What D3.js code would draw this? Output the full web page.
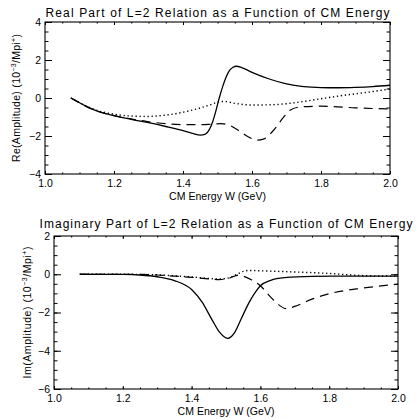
<!DOCTYPE html>
<html>
<head>
<meta charset="utf-8">
<script src="https://cdn.jsdelivr.net/npm/d3@7"></script>
<style>
  body { margin: 0; background: #fff; }
  text { font-family: "Liberation Sans", Arial, sans-serif; fill: #000; }
</style>
</head>
<body>
<div id="chart"></div>
<script>
// Energy axis ticks (GeV)
const xTickValues = [1.0, 1.2, 1.4, 1.6, 1.8, 2.0]
const reTickValues = [-4, -2, 0, 2, 4]
const imTickValues = [-6, -4, -2, 0, 2]

// Real part, [W, amplitude]
const reSolid = [[1.075, 0], [1.10, -0.25], [1.12, -0.45], [1.15, -0.68], [1.2, -0.93], [1.25, -1.12],
    [1.3, -1.3], [1.35, -1.5], [1.4, -1.72], [1.43, -1.88], [1.45, -1.95], [1.465, -1.9], [1.475, -1.7],
    [1.485, -1.3], [1.495, -0.7], [1.505, 0.0], [1.515, 0.6], [1.525, 1.1], [1.535, 1.45], [1.545, 1.62],
    [1.555, 1.67], [1.57, 1.6], [1.6, 1.35], [1.65, 1.0], [1.7, 0.74], [1.75, 0.6], [1.8, 0.55],
    [1.85, 0.54], [1.9, 0.56], [1.95, 0.6], [2.0, 0.67]]
const reDotted = [[1.075, 0], [1.1, -0.25], [1.15, -0.65], [1.2, -0.85], [1.25, -0.95], [1.3, -0.97],
    [1.35, -0.9], [1.4, -0.75], [1.45, -0.52], [1.48, -0.35], [1.5, -0.22], [1.52, -0.18], [1.55, -0.28],
    [1.6, -0.37], [1.65, -0.36], [1.7, -0.3], [1.75, -0.18], [1.8, -0.04], [1.85, 0.1], [1.9, 0.22],
    [1.95, 0.34], [2.0, 0.48]]
const reDashed = [[1.075, 0], [1.1, -0.25], [1.15, -0.68], [1.2, -0.93], [1.25, -1.1], [1.3, -1.25],
    [1.35, -1.35], [1.4, -1.4], [1.45, -1.4], [1.48, -1.38], [1.51, -1.35], [1.53, -1.4], [1.56, -1.7],
    [1.59, -2.05], [1.615, -2.22], [1.635, -2.15], [1.66, -1.75], [1.69, -1.05], [1.71, -0.65],
    [1.74, -0.47], [1.8, -0.43], [1.9, -0.52], [2.0, -0.58]]

// Imaginary part, [W, amplitude]
const imSolid = [[1.075, 0], [1.2, -0.01], [1.25, -0.04], [1.3, -0.13], [1.35, -0.33], [1.4, -0.8],
    [1.43, -1.45], [1.46, -2.4], [1.48, -3.0], [1.505, -3.35], [1.525, -3.05], [1.545, -2.3],
    [1.565, -1.55], [1.585, -0.95], [1.6, -0.6], [1.63, -0.32], [1.67, -0.18], [1.75, -0.11],
    [1.85, -0.1], [2.0, -0.1]]
const imDotted = [[1.075, 0], [1.2, 0], [1.3, -0.03], [1.35, -0.08], [1.4, -0.14], [1.45, -0.22],
    [1.48, -0.25], [1.51, -0.18], [1.53, -0.02], [1.55, 0.15], [1.57, 0.2], [1.6, 0.18], [1.7, 0.12],
    [1.8, 0.04], [1.85, -0.02], [1.9, -0.07], [2.0, -0.1]]
const imDashed = [[1.075, 0], [1.2, 0], [1.3, -0.04], [1.35, -0.1], [1.4, -0.16], [1.45, -0.24],
    [1.48, -0.28], [1.51, -0.2], [1.535, -0.05], [1.55, -0.1], [1.575, -0.3], [1.6, -0.6], [1.625, -1.1],
    [1.65, -1.55], [1.675, -1.8], [1.7, -1.68], [1.75, -1.3], [1.8, -1.02], [1.9, -0.72], [2.0, -0.52]]

let svg = d3.select('#chart')
            .append('svg')
            .attr('width', 416)
            .attr('height', 419)

const drawPanel = (p) => {
    let xScale = d3.scaleLinear().domain([1.0, 2.0]).range([p.left, p.right])
    let yScale = d3.scaleLinear().domain(p.yDomain).range([p.bottom, p.top])
    let plotW = p.right - p.left
    let plotH = p.bottom - p.top

    let g = svg.append('g')

    // minor ticks (every 0.05 in W, 0.5 in amplitude), IDL style on all 4 sides
    let xMinor = d3.range(1.0, 2.0001, 0.05)
    let yMinor = d3.range(p.yDomain[0], p.yDomain[1] + 0.001, 0.5)
    const noLabel = (a) => a.tickFormat('')

    g.append('g').attr('transform', `translate(0,${p.bottom})`)
        .call(noLabel(d3.axisBottom(xScale).tickValues(xMinor).tickSize(-1.6)))
    g.append('g').attr('transform', `translate(0,${p.top})`)
        .call(noLabel(d3.axisTop(xScale).tickValues(xMinor).tickSize(-1.6)))
    g.append('g').attr('transform', `translate(${p.left},0)`)
        .call(noLabel(d3.axisLeft(yScale).tickValues(yMinor).tickSize(-3.5)))
    g.append('g').attr('transform', `translate(${p.right},0)`)
        .call(noLabel(d3.axisRight(yScale).tickValues(yMinor).tickSize(-3.5)))

    // major ticks + labels
    g.append('g').attr('transform', `translate(0,${p.bottom})`)
        .call(d3.axisBottom(xScale).tickValues(xTickValues).tickSize(-3).tickPadding(6)
            .tickFormat(d3.format('.1f')))
    g.append('g').attr('transform', `translate(0,${p.top})`)
        .call(noLabel(d3.axisTop(xScale).tickValues(xTickValues).tickSize(-3)))
    g.append('g').attr('transform', `translate(${p.left},0)`)
        .call(d3.axisLeft(yScale).tickValues(p.yTicks).tickSize(-7).tickPadding(4)
            .tickFormat((d) => d < 0 ? '\u2212' + Math.abs(d) : d))
    g.append('g').attr('transform', `translate(${p.right},0)`)
        .call(noLabel(d3.axisRight(yScale).tickValues(p.yTicks).tickSize(-7)))

    g.selectAll('.domain').remove()
    g.selectAll('.tick line').attr('stroke', '#000')
    g.selectAll('.tick text').attr('font-size', '10.5px').attr('font-family', '"Liberation Sans", Arial, sans-serif')

    // frame
    g.append('rect')
        .attr('x', p.left).attr('y', p.top)
        .attr('width', plotW).attr('height', plotH)
        .attr('fill', 'none').attr('stroke', '#000').attr('stroke-width', 1.1)

    // curves
    let line = d3.line()
        .x((d) => xScale(d[0]))
        .y((d) => yScale(d[1]))
        .curve(d3.curveMonotoneX)

    p.series.forEach((s) => {
        g.append('path')
            .datum(s.data)
            .attr('d', line)
            .attr('fill', 'none')
            .attr('stroke', '#000')
            .attr('stroke-width', s.width)
            .attr('stroke-dasharray', s.dash)
    })

    // titles
    g.append('text')
        .attr('x', (p.left + p.right) / 2).attr('y', p.titleY)
        .attr('text-anchor', 'middle').attr('font-size', '12px')
        .attr('textLength', p.titleLen).attr('lengthAdjust', 'spacing')
        .text(p.title)

    g.append('text')
        .attr('x', (p.left + p.right) / 2).attr('y', p.bottom + 26)
        .attr('text-anchor', 'middle').attr('font-size', '10.5px')
        .attr('textLength', 97).attr('lengthAdjust', 'spacing')
        .text('CM Energy W (GeV)')

    let yLab = g.append('text')
        .attr('transform', `translate(${p.yLabelX},${(p.top + p.bottom) / 2}) rotate(-90)`)
        .attr('text-anchor', 'middle').attr('font-size', '10.5px')
        .attr('textLength', p.yLabelLen).attr('lengthAdjust', 'spacing')
    yLab.append('tspan').text(p.yPrefix + '(Amplitude)  (10')
    yLab.append('tspan').attr('font-size', '7px').attr('dy', -4).text('\u22123')
    yLab.append('tspan').attr('dy', 4).text('/Mpi')
    yLab.append('tspan').attr('font-size', '7px').attr('dy', -4).text('+')
    yLab.append('tspan').attr('dy', 4).text(')')
}

drawPanel({
    left: 45, right: 390, top: 22, bottom: 174,
    yDomain: [-4, 4], yTicks: reTickValues,
    title: 'Real Part of L=2 Relation as a Function of CM Energy', titleLen: 344, titleY: 17,
    yPrefix: 'Re', yLabelX: 19.5, yLabelLen: 128,
    series: [
        { data: reSolid, dash: null, width: 1.3 },
        { data: reDotted, dash: '1.3,2.7', width: 1.4 },
        { data: reDashed, dash: '9,6', width: 1.2 }
    ]
})

drawPanel({
    left: 54, right: 398, top: 236, bottom: 389,
    yDomain: [-6, 2], yTicks: imTickValues,
    title: 'Imaginary Part of L=2 Relation as a Function of CM Energy', titleLen: 373, titleY: 228,
    yPrefix: 'Im', yLabelX: 30.5, yLabelLen: 132,
    series: [
        { data: imSolid, dash: null, width: 1.3 },
        { data: imDotted, dash: '1.3,2.7', width: 1.4 },
        { data: imDashed, dash: '9,6', width: 1.2 }
    ]
})
</script>
</body>
</html>
